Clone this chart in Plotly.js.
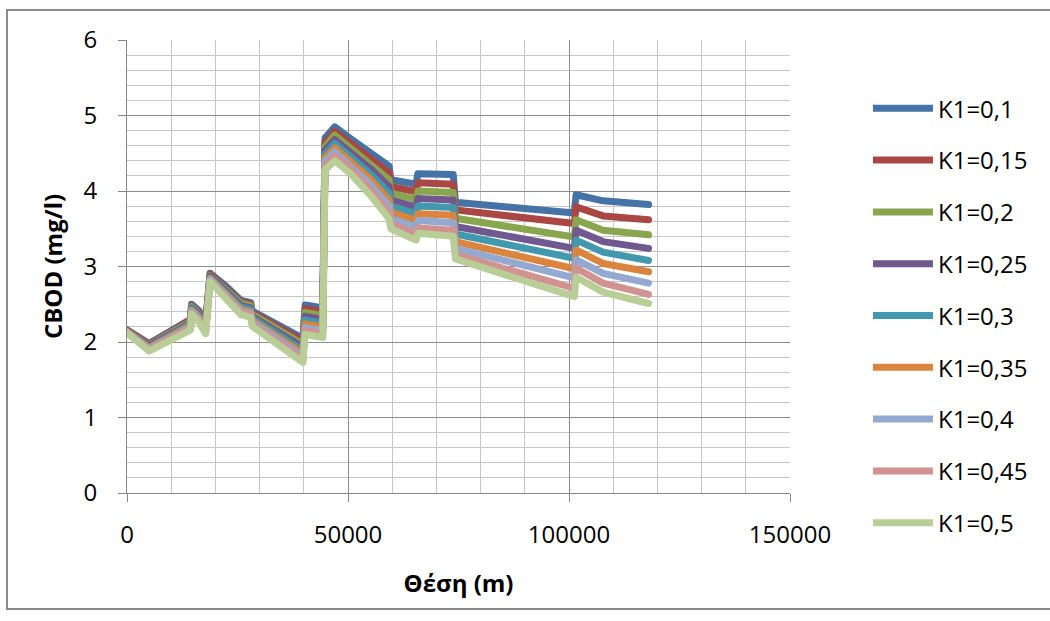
<!DOCTYPE html>
<html>
<head>
<meta charset="utf-8">
<script src="https://cdn.plot.ly/plotly-3.0.1.min.js"></script>
<style>
  html, body { margin: 0; padding: 0; background: #fff; overflow: hidden; }
  #wrap { position: relative; width: 1050px; height: 621px; }
  #chart { position: absolute; left: 0; top: 0; width: 1050px; height: 621px; }
  #frame { position: absolute; left: 6px; top: 9px; width: 1100px; height: 597px; border: 2px solid #8a8a8a; pointer-events: none; }
  .scatterlayer path.js-line { stroke-linejoin: round; stroke-linecap: round; }
</style>
</head>
<body>
<div id="wrap"><div id="chart"></div><div id="frame"></div></div>
<script>
// Position along the river (m)
const position = [0, 5000, 14400, 14600, 16200, 17800, 18800, 22200, 25800, 28000, 28300, 39800, 40300, 44300, 44800, 47000, 50400, 55000, 59300, 59700, 65400, 65800, 73800, 74300, 101200, 101600, 107700, 118000];

const seriesNames = ["K1=0,1", "K1=0,15", "K1=0,2", "K1=0,25", "K1=0,3", "K1=0,35", "K1=0,4", "K1=0,45", "K1=0,5"];

const k1_010 = [2.16, 1.98, 2.30, 2.50, 2.42, 2.26, 2.91, 2.75, 2.55, 2.52, 2.41, 2.05, 2.49, 2.45, 4.70, 4.85, 4.70, 4.52, 4.33, 4.15, 4.09, 4.23, 4.22, 3.85, 3.71, 3.95, 3.87, 3.82];
const k1_015 = [2.16, 1.97, 2.29, 2.48, 2.40, 2.25, 2.90, 2.73, 2.53, 2.50, 2.39, 2.01, 2.44, 2.40, 4.64, 4.79, 4.64, 4.45, 4.24, 4.06, 3.99, 4.11, 4.09, 3.75, 3.57, 3.79, 3.67, 3.62];
const k1_020 = [2.15, 1.96, 2.27, 2.47, 2.38, 2.23, 2.88, 2.71, 2.51, 2.48, 2.37, 1.97, 2.39, 2.35, 4.59, 4.74, 4.58, 4.37, 4.15, 3.97, 3.89, 4.00, 3.98, 3.64, 3.39, 3.62, 3.48, 3.42];
const k1_025 = [2.15, 1.95, 2.25, 2.45, 2.37, 2.21, 2.87, 2.68, 2.48, 2.45, 2.34, 1.93, 2.34, 2.30, 4.54, 4.68, 4.52, 4.30, 4.06, 3.88, 3.79, 3.90, 3.88, 3.53, 3.24, 3.48, 3.33, 3.24];
const k1_030 = [2.14, 1.93, 2.24, 2.44, 2.35, 2.19, 2.85, 2.66, 2.46, 2.43, 2.32, 1.89, 2.29, 2.25, 4.49, 4.63, 4.46, 4.23, 3.97, 3.80, 3.70, 3.80, 3.78, 3.43, 3.11, 3.35, 3.19, 3.08];
const k1_035 = [2.14, 1.92, 2.22, 2.42, 2.33, 2.17, 2.84, 2.64, 2.43, 2.40, 2.29, 1.85, 2.24, 2.20, 4.44, 4.57, 4.40, 4.16, 3.88, 3.72, 3.61, 3.70, 3.68, 3.33, 2.97, 3.22, 3.04, 2.93];
const k1_040 = [2.13, 1.91, 2.20, 2.41, 2.31, 2.15, 2.83, 2.62, 2.41, 2.38, 2.27, 1.81, 2.19, 2.15, 4.39, 4.52, 4.35, 4.09, 3.80, 3.64, 3.52, 3.61, 3.58, 3.24, 2.85, 3.09, 2.91, 2.78];
const k1_045 = [2.13, 1.90, 2.18, 2.39, 2.29, 2.13, 2.81, 2.60, 2.39, 2.36, 2.24, 1.77, 2.15, 2.11, 4.33, 4.46, 4.30, 4.02, 3.71, 3.57, 3.43, 3.51, 3.48, 3.16, 2.71, 2.98, 2.78, 2.63];
const k1_050 = [2.12, 1.88, 2.16, 2.37, 2.27, 2.11, 2.80, 2.57, 2.36, 2.33, 2.21, 1.73, 2.10, 2.06, 4.28, 4.40, 4.24, 3.95, 3.63, 3.50, 3.35, 3.44, 3.40, 3.10, 2.60, 2.86, 2.66, 2.51];

const seriesValues = [k1_010, k1_015, k1_020, k1_025, k1_030, k1_035, k1_040, k1_045, k1_050];
const colors = ["#4572A7", "#AA4643", "#89A54E", "#71588F", "#4198AF", "#DB843D", "#93A9CF", "#D19392", "#B9CD96"];

const FONT = "'Open Sans', 'Noto Sans', sans-serif";

const traces = seriesNames.map((name, i) => ({
  type: "scatter",
  mode: "lines",
  name: name,
  x: position,
  y: seriesValues[i],
  legendgroup: "g" + i,
  line: { color: colors[i], width: 7 }
}));

const axisCommon = {
  showline: true, linecolor: "#868686", linewidth: 1,
  ticks: "outside", ticklen: 8, tickcolor: "#868686", tickwidth: 1,
  showgrid: true, gridcolor: "#8c8c8c", gridwidth: 1,
  zeroline: false, automargin: false,
  tickfont: { family: FONT, size: 24, color: "#000" }
};

const layout = {
  width: 1050, height: 621,
  margin: { l: 127, r: 260, t: 40, b: 128 },
  paper_bgcolor: "#fff", plot_bgcolor: "#fff",
  font: { family: FONT, color: "#000" },
  showlegend: true,
  legend: {
    x: 1.1176, y: 0.898, xanchor: "left", yanchor: "top",
    font: { family: FONT, size: 24, color: "#000" },
    itemwidth: 60, tracegroupgap: 17.6, bgcolor: "rgba(0,0,0,0)"
  },
  xaxis: Object.assign({}, axisCommon, {
    range: [0, 150000], tick0: 0, dtick: 50000, tickformat: "d",
    ticklabelstandoff: 12,
    minor: { dtick: 10000, showgrid: true, gridcolor: "#c6c6c6", gridwidth: 1, ticks: "" },
    title: { text: "<b>Θέση (m)</b>", font: { family: FONT, size: 24, color: "#000" }, standoff: 26 }
  }),
  yaxis: Object.assign({}, axisCommon, {
    range: [0, 6], tick0: 0, dtick: 1,
    ticklabelstandoff: 16,
    minor: { dtick: 0.2, showgrid: true, gridcolor: "#c6c6c6", gridwidth: 1, ticks: "" },
    title: { text: "<b>CBOD (mg/l)</b>", font: { family: FONT, size: 24, color: "#000" }, standoff: 14 }
  })
};

Plotly.newPlot("chart", traces, layout, { displayModeBar: false, staticPlot: true });
</script>
</body>
</html>
